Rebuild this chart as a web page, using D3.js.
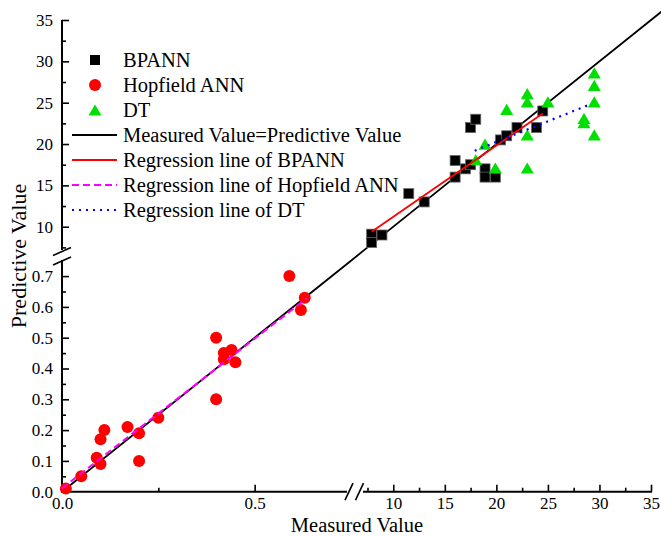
<!DOCTYPE html>
<html><head><meta charset="utf-8">
<script src="https://cdn.jsdelivr.net/npm/d3@7"></script>
<style>body{margin:0;background:#fff}text{font-family:"Liberation Serif","Times New Roman",serif;fill:#000}</style>
</head><body><svg id="c" width="661" height="537"></svg>
<script>
// ---- data ----
const bpMeasured  = [7.9,7.9,8.9,11.5,13.0,16.0,16.0,17.0,17.5,17.5,18.0,18.9,18.9,19.9,20.4,21.0,22.0,23.9,24.5];
const bpPredicted = [9.1,8.1,9.0,14.0,13.0,18.0,16.0,17.0,17.5,22.0,23.0,17.0,16.0,16.0,20.5,21.0,22.0,22.0,24.0];
const hopMeasured  = [0.01,0.05,0.09,0.10,0.10,0.11,0.17,0.20,0.20,0.25,0.40,0.40,0.42,0.42,0.44,0.45,0.59,0.62,0.63];
const hopPredicted = [0.01,0.05,0.11,0.09,0.17,0.20,0.21,0.19,0.10,0.24,0.50,0.30,0.45,0.43,0.46,0.42,0.70,0.59,0.63];
const dtMeasured  = [18.0,18.9,19.9,21.0,23.0,23.0,23.0,23.0,25.0,28.5,28.5,29.5,29.5,29.5,29.5];
const dtPredicted = [18.1,20.0,17.1,24.2,26.1,25.1,21.1,17.1,25.1,23.1,22.6,28.6,27.1,25.1,21.1];
const idealLine = [0,0.75,7.5,36];
const bpRegX = [7.9,24.5],  bpRegY = [9.4,23.7];
const hopRegX = [0.0,0.635], hopRegY = [0.011,0.628];
const dtRegX = [17.9,29.1], dtRegY = [19.2,24.8];
const lowerTicks = [0,0.1,0.2,0.3,0.4,0.5,0.6,0.7];
const lowerXTicks = [0,0.5];
const upperTicks = [10,15,20,25,30,35];
const legendLabels = ["BPANN","Hopfield ANN","DT","Measured Value=Predictive Value","Regression line of BPANN","Regression line of Hopfield ANN","Regression line of DT"];

// ---- scales (broken axes as piecewise linear) ----
const x = d3.scaleLinear().domain([0,0.75,7.5,35]).range([62,351,367.5,651]);
const y = d3.scaleLinear().domain([0,0.75,7.5,35]).range([491.7,260.7,247.4,20]);
const xLo = d3.scaleLinear().domain([0,0.75]).range([62,351]);
const xHi = d3.scaleLinear().domain([7.5,35]).range([367.5,651]);
const yLo = d3.scaleLinear().domain([0,0.75]).range([491.7,260.7]);
const yHi = d3.scaleLinear().domain([7.5,35]).range([247.4,20]);

const svg = d3.select("#c");
const X0 = 62, Y0 = 491.7;

// ---- axes ----
function styleAxis(g){ g.select(".domain").remove(); g.selectAll("line").attr("stroke","#000").attr("stroke-width",1.6); g.selectAll("text").style("font-size","17px").style("font-family","Liberation Serif"); }
// x lower
svg.append("g").attr("transform",`translate(0,${Y0})`).call(d3.axisTop(xLo).tickValues(lowerXTicks).tickSize(7).tickFormat("")).call(styleAxis);
svg.append("g").attr("transform",`translate(0,${Y0})`).call(d3.axisTop(xLo).tickValues([0.25]).tickSize(4).tickFormat("")).call(styleAxis);
svg.append("g").attr("transform",`translate(0,${Y0})`).call(d3.axisBottom(xLo).tickValues(lowerXTicks).tickSize(0).tickPadding(5).tickFormat(d3.format(".1f"))).call(styleAxis);
// x upper
svg.append("g").attr("transform",`translate(0,${Y0})`).call(d3.axisTop(xHi).tickValues(upperTicks).tickSize(7).tickFormat("")).call(styleAxis);
svg.append("g").attr("transform",`translate(0,${Y0})`).call(d3.axisTop(xHi).tickValues([7.5,12.5,17.5,22.5,27.5,32.5]).tickSize(4).tickFormat("")).call(styleAxis);
svg.append("g").attr("transform",`translate(0,${Y0})`).call(d3.axisBottom(xHi).tickValues(upperTicks).tickSize(0).tickPadding(5).tickFormat(d3.format("d"))).call(styleAxis);
// y lower
svg.append("g").attr("transform",`translate(${X0},0)`).call(d3.axisRight(yLo).tickValues(lowerTicks).tickSize(7).tickFormat("")).call(styleAxis);
svg.append("g").attr("transform",`translate(${X0},0)`).call(d3.axisRight(yLo).tickValues([0.05,0.15,0.25,0.35,0.45,0.55,0.65]).tickSize(4).tickFormat("")).call(styleAxis);
svg.append("g").attr("transform",`translate(${X0},0)`).call(d3.axisLeft(yLo).tickValues(lowerTicks).tickSize(0).tickPadding(9).tickFormat(d3.format(".1f"))).call(styleAxis);
// y upper
svg.append("g").attr("transform",`translate(${X0},0)`).call(d3.axisRight(yHi).tickValues(upperTicks).tickSize(7).tickFormat("")).call(styleAxis);
svg.append("g").attr("transform",`translate(${X0},0)`).call(d3.axisRight(yHi).tickValues([7.5,12.5,17.5,22.5,27.5,32.5]).tickSize(4).tickFormat("")).call(styleAxis);
svg.append("g").attr("transform",`translate(${X0},0)`).call(d3.axisLeft(yHi).tickValues(upperTicks).tickSize(0).tickPadding(9).tickFormat(d3.format("d"))).call(styleAxis);

// axis lines with breaks
const ax = svg.append("g").attr("stroke","#000").attr("stroke-width",2).attr("fill","none");
ax.append("line").attr("x1",X0).attr("x2",X0).attr("y1",Y0+1).attr("y2",260);
ax.append("line").attr("x1",X0).attr("x2",X0).attr("y1",250).attr("y2",yHi(35));
ax.append("line").attr("x1",X0-1).attr("x2",347).attr("y1",Y0).attr("y2",Y0);
ax.append("line").attr("x1",363).attr("x2",xHi(35)+1).attr("y1",Y0).attr("y2",Y0);
[251.5,261].forEach(cy=>ax.append("line").attr("x1",X0-9).attr("y1",cy+4).attr("x2",X0+9).attr("y2",cy-4).attr("stroke-width",1.6));
[349,359.5].forEach(cx=>ax.append("line").attr("x1",cx-4).attr("y1",Y0+8.5).attr("x2",cx+4).attr("y2",Y0-8.5).attr("stroke-width",1.6));

// axis titles
svg.append("text").attr("x",357).attr("y",531.5).attr("text-anchor","middle").style("font-size","20.5px").text("Measured Value");
svg.append("text").attr("transform","translate(26,256) rotate(-90)").attr("text-anchor","middle").style("font-size","22px").text("Predictive Value");

// ---- ideal line ----
const line = d3.line().x(d=>x(d[0])).y(d=>y(d[1]));
svg.append("path").attr("d",line(idealLine.map(v=>[v,v]))).attr("fill","none").attr("stroke","#000").attr("stroke-width",1.8);

// ---- markers ----
const tri = (cx,cy,w)=>`M${cx-w/2},${cy+w*0.43}L${cx+w/2},${cy+w*0.43}L${cx},${cy-w*0.43}Z`;
svg.append("g").selectAll("rect").data(bpMeasured.map((v,i)=>[v,bpPredicted[i]])).join("rect")
  .attr("x",d=>x(d[0])-5).attr("y",d=>y(d[1])-5).attr("width",10).attr("height",10)
  .attr("fill","#000").attr("stroke","#666").attr("stroke-width",0.8);
svg.append("g").selectAll("circle").data(hopMeasured.map((v,i)=>[v,hopPredicted[i]])).join("circle")
  .attr("cx",d=>x(d[0])).attr("cy",d=>y(d[1])).attr("r",6).attr("fill","#ff0000");
svg.append("g").selectAll("path").data(dtMeasured.map((v,i)=>[v,dtPredicted[i]])).join("path")
  .attr("d",d=>tri(x(d[0]),y(d[1]),13)).attr("fill","#00e000");

// ---- regression lines ----
svg.append("path").attr("d",line(bpRegX.map((v,i)=>[v,bpRegY[i]]))).attr("fill","none").attr("stroke","#ff0000").attr("stroke-width",1.8);
svg.append("path").attr("d",line(hopRegX.map((v,i)=>[v,hopRegY[i]]))).attr("fill","none").attr("stroke","#ff00ff").attr("stroke-width",2).attr("stroke-dasharray","7,4");
svg.append("path").attr("d",line(dtRegX.map((v,i)=>[v,dtRegY[i]]))).attr("fill","none").attr("stroke","#0000ff").attr("stroke-width",2.2).attr("stroke-dasharray","2,5");

// ---- legend ----
const lg = svg.append("g");
const rowY = i => 60 + i*25;
lg.append("rect").attr("x",90).attr("y",rowY(0)-5).attr("width",10).attr("height",10).attr("fill","#000");
lg.append("circle").attr("cx",95).attr("cy",rowY(1)).attr("r",6).attr("fill","#ff0000");
lg.append("path").attr("d",tri(95,rowY(2),13)).attr("fill","#00e000");
const lineStyles = [["#000",null,1.8],["#ff0000",null,1.8],["#ff00ff","7,4",2],["#0000ff","2,5",2.2]];
lineStyles.forEach((s,k)=>{
  const l = lg.append("line").attr("x1",72).attr("x2",117).attr("y1",rowY(k+3)).attr("y2",rowY(k+3)).attr("stroke",s[0]).attr("stroke-width",s[2]);
  if(s[1]) l.attr("stroke-dasharray",s[1]);
});
lg.selectAll("text").data(legendLabels).join("text").attr("x",123).attr("y",(d,i)=>rowY(i)).attr("dy","0.35em").style("font-size","20.5px").text(d=>d);
</script></body></html>
